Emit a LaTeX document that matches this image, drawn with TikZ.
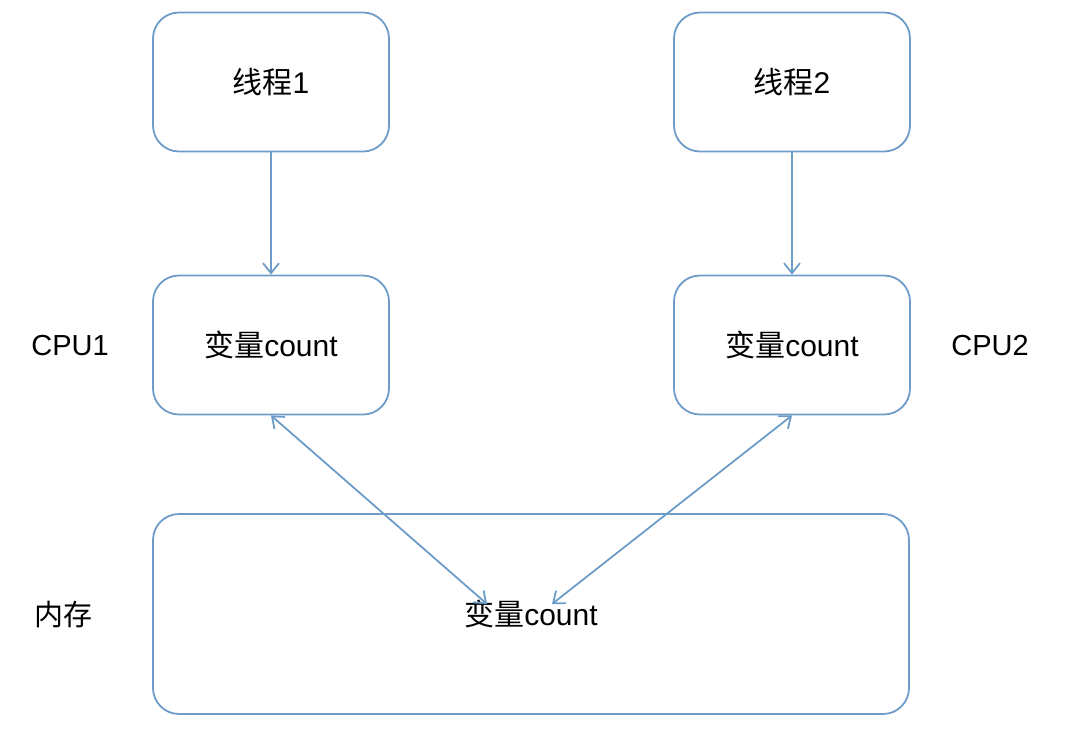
\documentclass[tikz,border=0pt]{standalone}
\usepackage{fontspec}
\setmainfont{Liberation Sans}
\newfontfamily\cjk{Noto Sans CJK SC}
\usetikzlibrary{arrows.meta,positioning}
\definecolor{cline}{HTML}{6E9CC8}
\tikzset{
  fbox/.style={draw=cline, line width=1.8pt, rounded corners=26pt, align=center,
               minimum width=236pt, minimum height=139pt, inner sep=0pt,
               font=\fontsize{30}{36}\selectfont},
  nlabel/.style={font=\fontsize{29}{35}\selectfont, inner sep=0pt},
  flow/.style={-{Straight Barb[length=10pt,width=16pt]}, draw=cline, line width=1.8pt},
  flowb/.style={{Straight Barb[length=10pt,width=16pt]}-{Straight Barb[length=10pt,width=16pt]}, draw=cline, line width=1.8pt},
}
\begin{document}
\begin{tikzpicture}[x=1pt, y=-1pt]
  \useasboundingbox (0,0) rectangle (1078,732);
  \node[fbox] (t1) at (271,82) {{\cjk 线程}1};
  \node[fbox] (t2) at (792,82) {{\cjk 线程}2};
  \node[fbox] (c1) at (271,345) {{\cjk 变量}count};
  \node[fbox] (c2) at (792,345) {{\cjk 变量}count};
  \node[fbox, minimum width=756pt, minimum height=200pt] (mem) at (531,614) {};
  \node[nlabel, font=\fontsize{30}{36}\selectfont] (mt) at (531,614) {{\cjk 变量}count};
  \node[nlabel] (l1) at (70,346) {CPU1};
  \node[nlabel] (l2) at (990,346) {CPU2};
  \node[nlabel] (l3) at (63,614) {\cjk 内存};
  \coordinate (m1) at (487,604);
  \coordinate (m2) at (552,604);
  \draw[flow] (t1) -- (c1);
  \draw[flow] (t2) -- (c2);
  \draw[flowb] (c1.south) -- (m1);
  \draw[flowb] (c2.south) -- (m2);
\end{tikzpicture}
\end{document}
